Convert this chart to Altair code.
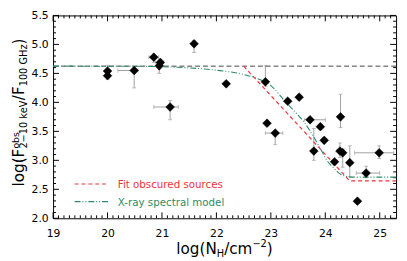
import altair as alt
import pandas as pd

# ---------------- data ----------------
nh = [20.00, 20.00, 20.49, 20.85, 20.97, 20.95, 21.15, 21.59, 22.18, 22.90, 23.31, 23.52, 22.93,
      23.08, 23.72, 23.91, 23.98, 23.79, 24.28, 24.27, 24.32, 24.17, 24.45, 24.99, 24.75, 24.59]
ratio = [4.54, 4.46, 4.55, 4.78, 4.69, 4.63, 3.92, 5.01, 4.32, 4.355, 4.02, 4.09, 3.64,
         3.47, 3.70, 3.58, 3.345, 3.16, 3.75, 3.16, 3.13, 2.975, 2.96, 3.13, 2.78, 2.295]
nh_lo = [20.00, 20.00, 20.19, 20.76, 20.88, 20.95, 20.85, 21.59, 22.14, 22.90, 23.27, 23.48, 22.90,
         22.90, 23.62, 23.87, 23.94, 23.75, 24.28, 24.22, 24.32, 24.13, 24.45, 24.54, 24.57, 24.55]
nh_hi = [20.00, 20.00, 20.56, 20.94, 21.03, 20.95, 21.30, 21.59, 22.22, 22.90, 23.35, 23.56, 22.96,
         23.22, 24.00, 23.95, 24.02, 23.83, 24.28, 24.32, 24.32, 24.21, 24.45, 25.26, 25.00, 24.63]
ratio_lo = [4.47, 4.40, 4.25, 4.69, 4.62, 4.50, 3.70, 4.86, 4.27, 4.28, 3.98, 4.05, 3.60,
            3.27, 3.66, 3.54, 3.30, 3.00, 3.565, 3.05, 2.88, 2.94, 2.72, 3.03, 2.70, 2.26]
ratio_hi = [4.64, 4.52, 4.58, 4.81, 4.74, 4.66, 4.03, 5.07, 4.36, 4.63, 4.06, 4.13, 3.68,
            3.50, 3.74, 3.62, 3.39, 3.55, 4.14, 3.30, 3.20, 3.01, 3.25, 3.25, 2.90, 2.33]

model_nh = [19.0, 20.5, 21.0, 21.5, 22.0, 22.5, 22.83, 23.0, 23.25, 23.43, 23.61, 23.79,
            23.9, 24.03, 24.15, 24.28, 24.4, 24.5, 25.3]
model_ratio = [4.625, 4.623, 4.615, 4.595, 4.555, 4.48, 4.38, 4.29, 4.03, 3.85, 3.66, 3.40,
               3.22, 3.00, 2.87, 2.76, 2.72, 2.71, 2.71]
fit_nh = [22.5, 24.45, 25.3]
fit_ratio = [4.625, 2.645, 2.645]
ref_level = [4.625]

x_major = [19, 20, 21, 22, 23, 24, 25]
y_major = [2.0, 2.5, 3.0, 3.5, 4.0, 4.5, 5.0, 5.5]
x_minor = [round(19 + 0.1 * i, 1) for i in range(1, 63) if i % 10]
y_minor = [round(2 + 0.1 * i, 1) for i in range(1, 35) if i % 5]

legend_labels = ["Fit obscured sources", "X-ray spectral model"]

# ---------------- layout ----------------
W, H = 350, 207
RED = "#f2323c"
GREEN = "#2e8b6a"
FONT = "DejaVu Sans"

xs = alt.Scale(domain=[19, 25.3], nice=False, zero=False)
ys = alt.Scale(domain=[2.0, 5.5], nice=False, zero=False)
xaxis = alt.Axis(values=x_major, ticks=False, tickSize=0, domain=False, grid=False,
                 labelPadding=10, labelFontSize=11, labelFont=FONT, labelColor="black",
                 labelFlush=False, labelOverlap=False, format="d", title=None)
yaxis = alt.Axis(values=y_major, ticks=False, tickSize=0, domain=False, grid=False,
                 labelPadding=5, labelFontSize=11, labelFont=FONT, labelColor="black",
                 labelFlush=False, labelOverlap=False, format=".1f", title=None)

pts = pd.DataFrame({"x": nh, "y": ratio, "xlo": nh_lo, "xhi": nh_hi,
                    "ylo": ratio_lo, "yhi": ratio_hi})


def X(f):
    return alt.X(f, type="quantitative", scale=xs, axis=xaxis)


def Y(f):
    return alt.Y(f, type="quantitative", scale=ys, axis=yaxis)


layers = []

# tick marks (inward, all four sides)
xmaj = alt.Chart(pd.DataFrame({"v": x_major}))
xmin = alt.Chart(pd.DataFrame({"v": x_minor}))
ymaj = alt.Chart(pd.DataFrame({"v": y_major}))
ymin = alt.Chart(pd.DataFrame({"v": y_minor}))
for ch, L in ((xmaj, 6), (xmin, 3)):
    layers.append(ch.mark_rule(color="black", strokeWidth=1).encode(
        x=X("v"), y=alt.value(H), y2=alt.value(H - L)))
    layers.append(ch.mark_rule(color="black", strokeWidth=1).encode(
        x=X("v"), y=alt.value(0), y2=alt.value(L)))
for ch, L in ((ymaj, 6), (ymin, 3)):
    layers.append(ch.mark_rule(color="black", strokeWidth=1).encode(
        y=Y("v"), x=alt.value(0), x2=alt.value(L)))
    layers.append(ch.mark_rule(color="black", strokeWidth=1).encode(
        y=Y("v"), x=alt.value(W), x2=alt.value(W - L)))

# error bars
base = alt.Chart(pts)
EC = "#a0a0a0"
layers.append(base.mark_rule(color=EC, strokeWidth=1).encode(x=X("xlo"), x2="xhi", y=Y("y")))
layers.append(base.mark_rule(color=EC, strokeWidth=1).encode(x=X("x"), y=Y("ylo"), y2="yhi"))
hx = base.transform_filter("datum.xhi > datum.xlo")
for f in ("xlo", "xhi"):
    layers.append(hx.mark_tick(color=EC, orient="vertical", size=4, thickness=1).encode(
        x=X(f), y=Y("y")))
for f in ("ylo", "yhi"):
    layers.append(base.mark_tick(color=EC, orient="horizontal", size=4, thickness=1).encode(
        x=X("x"), y=Y(f)))

# reference level, fit and model curves
layers.append(alt.Chart(pd.DataFrame({"v": ref_level})).mark_rule(
    color="#444444", strokeWidth=1, strokeDash=[5, 3]).encode(y=Y("v")))
layers.append(alt.Chart(pd.DataFrame({"x": fit_nh, "y": fit_ratio})).mark_line(
    color=RED, strokeWidth=1.2, strokeDash=[4, 3]).encode(x=X("x"), y=Y("y")))
layers.append(alt.Chart(pd.DataFrame({"x": model_nh, "y": model_ratio})).mark_line(
    color=GREEN, strokeWidth=1.1, strokeDash=[6, 2, 1, 2, 1, 2], interpolate="monotone").encode(
    x=X("x"), y=Y("y")))

# points
layers.append(base.mark_point(shape="diamond", filled=True, color="black", opacity=1,
                              size=80, stroke="black", strokeWidth=0.5).encode(x=X("x"), y=Y("y")))


def text(txt, x, y, size, color="black", angle=0, baseline="alphabetic"):
    return alt.Chart(pd.DataFrame({"t": [txt]})).mark_text(
        align="left", baseline=baseline, font=FONT, fontSize=size, color=color,
        angle=angle).encode(x=alt.value(x), y=alt.value(y), text="t:N")


# legend
leg_y = [172, 190]
layers.append(alt.Chart(pd.DataFrame({"a": [0]})).mark_rule(
    color=RED, strokeWidth=1.2, strokeDash=[4, 3]).encode(
    x=alt.value(22), x2=alt.value(56), y=alt.value(leg_y[0])))
layers.append(alt.Chart(pd.DataFrame({"a": [0]})).mark_rule(
    color=GREEN, strokeWidth=1.1, strokeDash=[6, 2, 1, 2, 1, 2]).encode(
    x=alt.value(22), x2=alt.value(56), y=alt.value(leg_y[1])))
layers.append(text(legend_labels[0], 66, leg_y[0] + 1.5, 10.5, RED, baseline="middle"))
layers.append(text(legend_labels[1], 66, leg_y[1] + 1.5, 10.5, GREEN, baseline="middle"))

# axis titles built from pieces (sub/superscripts)
ADV = {"l": .278, "o": .612, "g": .635, "(": .390, ")": .390, "N": .748, "H": .752, "/": .337,
       "c": .550, "m": .974, "\u2212": .838, "2": .636, "F": .575, "b": .635, "s": .521,
       "1": .636, "0": .636, " ": .318, "k": .579, "e": .615, "V": .684, "G": .775, "z": .525}


def tw(s, size):
    return sum(ADV.get(c, .6) for c in s) * size


M, S = 15.5, 10
# x title
xpieces = [("log(N", M, 0), ("H", S, 3.5), ("/cm", M, 0), ("\u22122", S, -6.5), (")", M, 0)]
tot = sum(tw(s, z) for s, z, _ in xpieces)
cx = W / 2 - tot / 2
for s, z, dy in xpieces:
    layers.append(text(s, cx, 243 + dy, z))
    cx += tw(s, z)

# y title (rotated, reads bottom to top)
BX = -30
ypieces = [[("log(F", M, 0)], [("obs", 9.5, -4.5), ("2\u221210 keV", S, 3.5)],
           [("/F", M, 0)], [("100 GHz", S, 3.5)], [(")", M, 0)]]
tot = sum(max(tw(s, z) for s, z, _ in grp) for grp in ypieces)
cy = 99 + tot / 2
for grp in ypieces:
    for s, z, dx in grp:
        layers.append(text(s, BX + dx, cy, z, angle=270))
    cy -= max(tw(s, z) for s, z, _ in grp)

chart = alt.layer(*layers).properties(
    width=W, height=H,
    padding={"left": 46, "top": 5, "right": 3, "bottom": 41},
    autosize=alt.AutoSizeParams(type="none"),
).configure_view(stroke="black", strokeWidth=1)

chart.save("out.html", embed_options={"renderer": "svg", "actions": False})
